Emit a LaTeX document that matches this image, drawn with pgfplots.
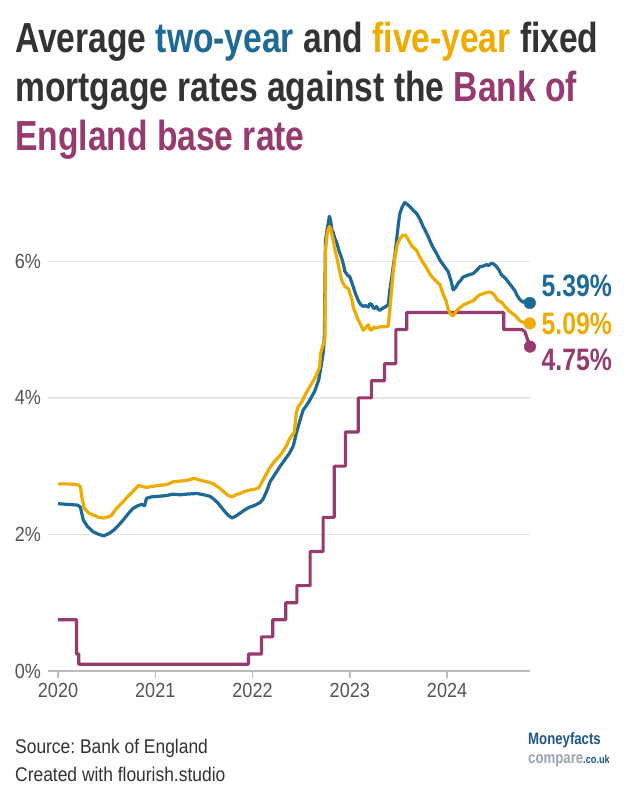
\documentclass[border=0pt]{standalone}
\usepackage{pgfplots}
\pgfplotsset{compat=1.18}
\usepackage{fontspec}
\setmainfont{Liberation Sans}
\newfontfamily\titlefont[FakeStretch=0.8]{Liberation Sans}
\newfontfamily\condfont[FakeStretch=0.88]{Liberation Sans}
\definecolor{cblue}{HTML}{1D6A96}
\definecolor{cyellow}{HTML}{F0AB00}
\definecolor{cpurple}{HTML}{963A70}
\definecolor{ctext}{HTML}{333333}
\definecolor{ctick}{HTML}{555555}
\definecolor{cgrid}{HTML}{E6E6E6}
\definecolor{caxis}{HTML}{BBBBBB}
\definecolor{logoblue}{HTML}{1F5591}
\definecolor{logogray}{HTML}{9AA5B1}
\frenchspacing

\pgfplotstableread{
x y
2020.00 2.45
2020.10 2.44
2020.20 2.43
2020.23 2.40
2020.26 2.21
2020.30 2.12
2020.36 2.04
2020.42 2.00
2020.47 1.98
2020.52 2.01
2020.57 2.06
2020.62 2.13
2020.67 2.21
2020.72 2.30
2020.77 2.38
2020.82 2.42
2020.86 2.44
2020.89 2.42
2020.91 2.53
2020.96 2.55
2021.05 2.56
2021.12 2.57
2021.18 2.59
2021.25 2.58
2021.32 2.59
2021.43 2.60
2021.50 2.58
2021.56 2.56
2021.60 2.52
2021.65 2.45
2021.70 2.36
2021.75 2.28
2021.79 2.24
2021.83 2.27
2021.87 2.31
2021.92 2.36
2021.97 2.40
2022.03 2.43
2022.08 2.47
2022.11 2.52
2022.15 2.65
2022.18 2.77
2022.23 2.88
2022.28 2.99
2022.33 3.09
2022.38 3.19
2022.42 3.30
2022.45 3.48
2022.49 3.68
2022.52 3.82
2022.56 3.90
2022.59 3.97
2022.64 4.10
2022.68 4.26
2022.71 4.50
2022.73 4.70
2022.740 4.95
2022.744 5.60
2022.750 6.30
2022.770 6.50
2022.778 6.55
2022.790 6.66
2022.803 6.60
2022.815 6.46
2022.829 6.42
2022.845 6.34
2022.864 6.28
2022.890 6.15
2022.916 6.05
2022.935 5.95
2022.950 5.85
2022.975 5.80
2023.001 5.77
2023.035 5.63
2023.060 5.52
2023.086 5.43
2023.110 5.37
2023.138 5.34
2023.160 5.35
2023.190 5.33
2023.205 5.38
2023.224 5.37
2023.240 5.32
2023.258 5.31
2023.275 5.34
2023.290 5.30
2023.309 5.28
2023.335 5.31
2023.361 5.33
2023.395 5.36
2023.412 5.58
2023.430 5.75
2023.446 5.92
2023.465 6.10
2023.481 6.31
2023.500 6.55
2023.515 6.70
2023.540 6.80
2023.566 6.86
2023.595 6.83
2023.618 6.80
2023.650 6.75
2023.687 6.70
2023.720 6.62
2023.754 6.51
2023.780 6.44
2023.806 6.36
2023.830 6.28
2023.857 6.20
2023.890 6.12
2023.926 6.02
2023.960 5.95
2024.011 5.85
2024.040 5.72
2024.063 5.58
2024.090 5.62
2024.114 5.68
2024.140 5.72
2024.166 5.77
2024.220 5.80
2024.268 5.82
2024.300 5.86
2024.337 5.92
2024.370 5.93
2024.406 5.95
2024.430 5.94
2024.457 5.97
2024.480 5.96
2024.509 5.92
2024.535 5.87
2024.560 5.80
2024.600 5.75
2024.628 5.70
2024.660 5.64
2024.697 5.57
2024.720 5.50
2024.748 5.44
2024.780 5.40
2024.800 5.42
2024.823 5.40
2024.851 5.39
}\twoyear

\pgfplotstableread{
x y
2020.00 2.74
2020.10 2.74
2020.20 2.73
2020.23 2.70
2020.245 2.55
2020.27 2.38
2020.32 2.31
2020.37 2.28
2020.42 2.25
2020.47 2.24
2020.52 2.26
2020.55 2.28
2020.60 2.38
2020.67 2.48
2020.72 2.56
2020.77 2.63
2020.83 2.72
2020.87 2.70
2020.91 2.69
2021.00 2.71
2021.05 2.72
2021.12 2.73
2021.18 2.77
2021.25 2.78
2021.32 2.79
2021.40 2.82
2021.45 2.80
2021.50 2.78
2021.56 2.76
2021.60 2.74
2021.66 2.68
2021.70 2.63
2021.75 2.57
2021.79 2.55
2021.83 2.58
2021.87 2.60
2021.92 2.63
2021.97 2.65
2022.02 2.66
2022.06 2.68
2022.08 2.72
2022.11 2.80
2022.14 2.88
2022.18 2.98
2022.22 3.06
2022.26 3.12
2022.30 3.19
2022.35 3.30
2022.38 3.40
2022.43 3.50
2022.45 3.78
2022.47 3.87
2022.51 3.95
2022.55 4.07
2022.60 4.19
2022.65 4.31
2022.69 4.45
2022.70 4.65
2022.73 4.80
2022.744 4.85
2022.747 5.70
2022.752 6.20
2022.770 6.43
2022.790 6.51
2022.803 6.48
2022.829 6.31
2022.850 6.15
2022.864 6.07
2022.890 5.90
2022.916 5.72
2022.950 5.63
2022.985 5.60
2023.020 5.45
2023.035 5.33
2023.086 5.14
2023.120 5.05
2023.138 4.99
2023.160 5.02
2023.190 5.07
2023.210 5.00
2023.224 4.99
2023.250 5.04
2023.270 5.02
2023.309 5.04
2023.361 5.04
2023.395 5.05
2023.412 5.30
2023.430 5.58
2023.446 5.85
2023.465 6.07
2023.490 6.25
2023.515 6.33
2023.545 6.38
2023.576 6.38
2023.600 6.32
2023.640 6.22
2023.687 6.16
2023.720 6.06
2023.754 5.98
2023.790 5.90
2023.830 5.80
2023.872 5.73
2023.926 5.66
2023.960 5.52
2023.990 5.42
2024.011 5.30
2024.040 5.22
2024.063 5.20
2024.090 5.26
2024.114 5.30
2024.166 5.36
2024.230 5.40
2024.268 5.42
2024.310 5.48
2024.337 5.51
2024.380 5.53
2024.430 5.55
2024.460 5.54
2024.490 5.50
2024.520 5.43
2024.560 5.40
2024.600 5.33
2024.640 5.27
2024.697 5.21
2024.748 5.13
2024.790 5.10
2024.823 5.11
2024.851 5.09
}\fiveyear

\pgfplotstableread{
x y
2020.000 0.75
2020.190 0.75
2020.190 0.25
2020.213 0.25
2020.213 0.10
2021.958 0.10
2021.958 0.25
2022.092 0.25
2022.092 0.50
2022.208 0.50
2022.208 0.75
2022.342 0.75
2022.342 1.00
2022.456 1.00
2022.456 1.25
2022.592 1.25
2022.592 1.75
2022.726 1.75
2022.726 2.25
2022.840 2.25
2022.840 3.00
2022.955 3.00
2022.955 3.50
2023.088 3.50
2023.088 4.00
2023.222 4.00
2023.222 4.25
2023.357 4.25
2023.357 4.50
2023.474 4.50
2023.474 5.00
2023.586 5.00
2023.586 5.25
2024.582 5.25
2024.582 5.00
2024.770 5.00
2024.800 4.97
2024.853 4.75
}\baserate

\begin{document}
\begin{tikzpicture}
\fill[white] (0pt,0pt) rectangle (628pt,800pt);
\path[use as bounding box] (0pt,0pt) rectangle (628pt,800pt);

% title
\node[anchor=base west, inner sep=0, text=ctext, font=\titlefont\bfseries\fontsize{42}{48}\selectfont] at (15pt,747pt)
  {Average \textcolor{cblue}{two-year} and \textcolor{cyellow}{five-year} fixed};
\node[anchor=base west, inner sep=0, text=ctext, font=\titlefont\bfseries\fontsize{42}{48}\selectfont] at (15pt,698pt)
  {mortgage rates against the \textcolor{cpurple}{Bank of}};
\node[anchor=base west, inner sep=0, text=cpurple, font=\titlefont\bfseries\fontsize{42}{48}\selectfont] at (15pt,649pt)
  {England base rate};

\begin{axis}[
  at={(48pt,129pt)}, anchor=south west,
  scale only axis, width=482pt, height=478pt,
  xmin=2019.897, xmax=2024.853, ymin=0, ymax=7,
  axis x line*=bottom, axis y line*=left,
  y axis line style={draw=none},
  x axis line style={draw=caxis, line width=1.5pt},
  xtick={2020,2021,2022,2023,2024},
  xticklabels={2020,2021,2022,2023,2024},
  ytick={0,2,4,6},
  yticklabels={0\%,2\%,4\%,6\%},
  tick align=outside,
  major tick length=7pt,
  xtick style={draw=caxis, line width=1.5pt},
  ytick style={draw=none},
  ymajorgrids,
  grid style={draw=cgrid, line width=1.5pt},
  clip=false,
  xticklabel style={font=\condfont\fontsize{20.5}{24}\selectfont, text=ctick, inner sep=0pt, yshift=-5pt},
  yticklabel style={font=\condfont\fontsize{20.5}{24}\selectfont, text=ctick, inner sep=0pt, anchor=east},
]
\addplot[cpurple, line width=3.2pt, line join=round] table {\baserate};
\addplot[cblue, line width=3.2pt, line join=round] table {\twoyear};
\addplot[cyellow, line width=3.2pt, line join=round] table {\fiveyear};
\addplot[cpurple, only marks, mark=*, mark size=5.8pt] coordinates {(2024.853,4.75)};
\addplot[cblue, only marks, mark=*, mark size=5.8pt] coordinates {(2024.851,5.39)};
\addplot[cyellow, only marks, mark=*, mark size=5.8pt] coordinates {(2024.851,5.09)};
\node[anchor=west, inner sep=0, text=cblue, font=\titlefont\bfseries\fontsize{31}{36}\selectfont] at (axis cs:2024.97,5.64) {5.39\%};
\node[anchor=west, inner sep=0, text=cyellow, font=\titlefont\bfseries\fontsize{31}{36}\selectfont] at (axis cs:2024.97,5.09) {5.09\%};
\node[anchor=west, inner sep=0, text=cpurple, font=\titlefont\bfseries\fontsize{31}{36}\selectfont] at (axis cs:2024.97,4.55) {4.75\%};
\end{axis}

% footer
\node[anchor=base west, inner sep=0, text=ctext, font=\condfont\fontsize{19.8}{24}\selectfont] at (15pt,46pt) {Source: Bank of England};
\node[anchor=base west, inner sep=0, text=ctext, font=\condfont\fontsize{19.8}{24}\selectfont] at (15pt,18pt) {Created with flourish.studio};
% logo
\node[anchor=base west, inner sep=0, text=logoblue, font=\titlefont\bfseries\fontsize{16.5}{18}\selectfont] at (528pt,55pt) {Moneyfacts};
\node[anchor=base west, inner sep=0, font=\titlefont\bfseries\fontsize{16.5}{18}\selectfont] at (528pt,36pt) {\textcolor{logogray}{compare}{\fontsize{11.5}{14}\selectfont\textcolor{logoblue}{.co.uk}}};
\end{tikzpicture}
\end{document}
